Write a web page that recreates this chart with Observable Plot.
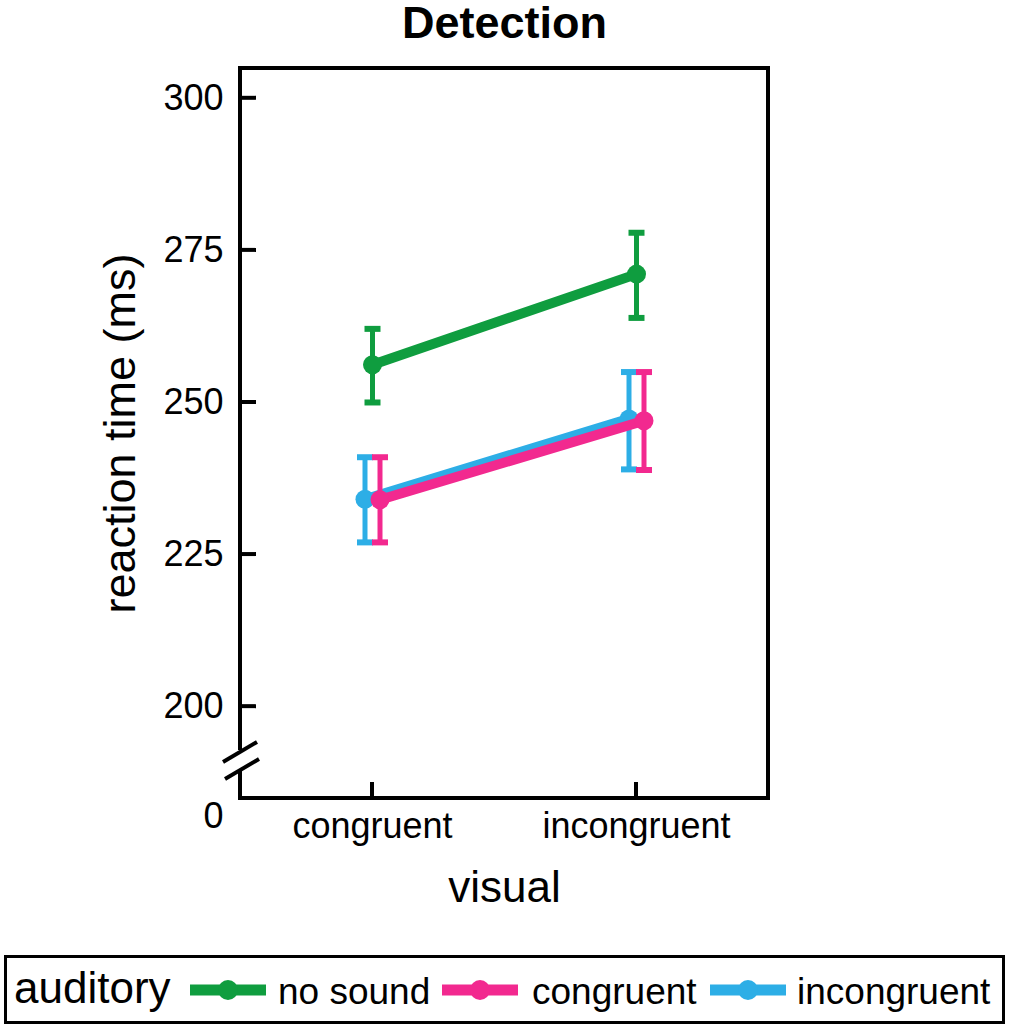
<!DOCTYPE html>
<html>
<head>
<meta charset="utf-8">
<script src="https://cdn.jsdelivr.net/npm/d3@7"></script>
<script src="https://cdn.jsdelivr.net/npm/@observablehq/plot@0.6"></script>
<style>
  html, body { margin: 0; padding: 0; background: #fff; }
  body { width: 1009px; height: 1029px; position: relative; overflow: hidden;
         font-family: "Liberation Sans", Arial, sans-serif; }
  #legend { position: absolute; left: 4px; top: 955px; width: 1001px; height: 69px;
            border: 3px solid #000; box-sizing: border-box; }
  #legend .t { position: absolute; white-space: nowrap; color: #000; line-height: 1; }
  #legend svg { position: absolute; }
</style>
</head>
<body>
<div id="chart"></div>
<div id="legend"></div>
<script>
// ---- data ----
const visualCats = ["congruent", "incongruent"];
const auditoryCats = ["no sound", "congruent", "incongruent"];
const seriesColors = ["#0f9d3f", "#f2298f", "#2daee6"];

const noSoundMean = [256.2, 271.1];
const noSoundLo   = [250.0, 263.9];
const noSoundHi   = [262.1, 277.9];

const congruentMean = [234.0, 247.0];
const congruentLo   = [227.0, 238.9];
const congruentHi   = [241.0, 255.0];

const incongruentMean = [234.1, 247.3];
const incongruentLo   = [227.0, 239.0];
const incongruentHi   = [241.0, 255.0];

const yTicks = [200, 225, 250, 275, 300];
const yDomain = [184.9, 304.9];      // axis extent (bottom value shown as "0")
const axisBreak = [192.8, 189.5];    // axis break gap on the y axis
const zeroLabel = "0";

// ---- build ----
const means = [noSoundMean, congruentMean, incongruentMean];
const los = [noSoundLo, congruentLo, incongruentLo];
const his = [noSoundHi, congruentHi, incongruentHi];
const dodge = [0, 7.5, -7.5];

const series = auditoryCats.map((name, i) => ({
  name, color: seriesColors[i], dx: dodge[i],
  rows: visualCats.map((v, j) => ({visual: v, mean: means[i][j], lo: los[i][j], hi: his[i][j]}))
}));

const capSymbol = {
  draw(context, size) {
    const w = Math.sqrt(size / Math.PI);
    context.moveTo(-w, 0);
    context.lineTo(w, 0);
  }
};

function seriesMarks(s) {
  return [
    Plot.ruleX(s.rows, {x: "visual", y1: "lo", y2: "hi", dx: s.dx, stroke: s.color, strokeWidth: 5}),
    Plot.dot(s.rows, {x: "visual", y: "lo", dx: s.dx, symbol: capSymbol, r: 8, fill: "none", stroke: s.color, strokeWidth: 6}),
    Plot.dot(s.rows, {x: "visual", y: "hi", dx: s.dx, symbol: capSymbol, r: 8, fill: "none", stroke: s.color, strokeWidth: 6}),
    Plot.line(s.rows, {x: "visual", y: "mean", dx: s.dx, stroke: s.color, strokeWidth: 10}),
    Plot.dot(s.rows, {x: "visual", y: "mean", dx: s.dx, r: 9.5, fill: s.color, stroke: "none"})
  ];
}

function frameMark(index, scales, values, dims) {
  const {x, y} = scales;
  const L = dims.marginLeft, R = dims.width - dims.marginRight;
  const T = dims.marginTop, B = dims.height - dims.marginBottom;
  const yb1 = y(axisBreak[0]), yb2 = y(axisBreak[1]);
  const g = d3.create("svg:g").attr("fill", "none").attr("stroke", "#000").attr("stroke-width", 4);
  g.append("path")
    .attr("stroke-linejoin", "miter")
    .attr("d", `M${L},${yb1}V${T}H${R}V${B}H${L}V${yb2}`);
  // y ticks (inward)
  for (const t of yTicks) g.append("line").attr("x1", L).attr("x2", L + 16).attr("y1", y(t)).attr("y2", y(t));
  // x ticks (inward)
  for (const c of visualCats) g.append("line").attr("x1", x(c)).attr("x2", x(c)).attr("y1", B).attr("y2", B - 16);
  // break slashes
  for (const [cx, cy] of [[L, yb1 + 2], [L + 2, yb2 - 1]]) {
    g.append("line").attr("x1", cx - 17).attr("y1", cy + 10).attr("x2", cx + 17).attr("y2", cy - 10);
  }
  return g.node();
}

const plot = Plot.plot({
  width: 1009,
  height: 945,
  marginLeft: 240,
  marginRight: 241,
  marginTop: 68,
  marginBottom: 147,
  x: {type: "point", domain: visualCats, padding: 0.5},
  y: {domain: yDomain},
  style: {fontFamily: "'Liberation Sans', Arial, sans-serif", background: "white", color: "black", overflow: "visible"},
  marks: [
    Plot.axisX({tickSize: 0, tickPadding: 14, fontSize: 36, label: null}),
    Plot.axisY(yTicks, {tickSize: 0, tickPadding: 17, fontSize: 36, label: null}),
    Plot.text([zeroLabel], {y: yDomain[0], frameAnchor: "left", text: d => d, dx: -17, dy: 4, lineAnchor: "top", textAnchor: "end", fontSize: 36}),
    Plot.text(["Detection"], {frameAnchor: "top", text: d => d, dy: -62, lineAnchor: "top", textAnchor: "middle", fontSize: 45, fontWeight: "bold"}),
    Plot.text(["visual"], {frameAnchor: "bottom", text: d => d, dy: 72, lineAnchor: "top", textAnchor: "middle", fontSize: 44}),
    Plot.text(["reaction time (ms)"], {frameAnchor: "left", text: d => d, dx: -120, rotate: -90, lineAnchor: "middle", textAnchor: "middle", fontSize: 45}),
    ...seriesMarks(series[0]),
    ...seriesMarks(series[2]),
    ...seriesMarks(series[1]),
    frameMark
  ]
});
document.getElementById("chart").appendChild(plot);

// ---- legend ----
const legend = d3.select("#legend");
legend.append("div").attr("class", "t").style("left", (14 - 7) + "px").style("top", "8px").style("font-size", "44px").text("auditory");
const swatchX = [190, 442, 710];
const labelX = [278, 532, 797];
series.forEach((s, i) => {
  const sv = legend.append("svg").attr("width", 78).attr("height", 26)
    .style("left", (swatchX[i] - 7) + "px").style("top", (990 - 13 - 958) + "px");
  sv.append("line").attr("x1", 0).attr("x2", 76).attr("y1", 13).attr("y2", 13)
    .attr("stroke", s.color).attr("stroke-width", 11);
  sv.append("circle").attr("cx", 38).attr("cy", 13).attr("r", 10).attr("fill", s.color);
  legend.append("div").attr("class", "t").style("left", (labelX[i] - 7) + "px").style("top", "15px")
    .style("font-size", "37px").text(s.name);
});
</script>
</body>
</html>
